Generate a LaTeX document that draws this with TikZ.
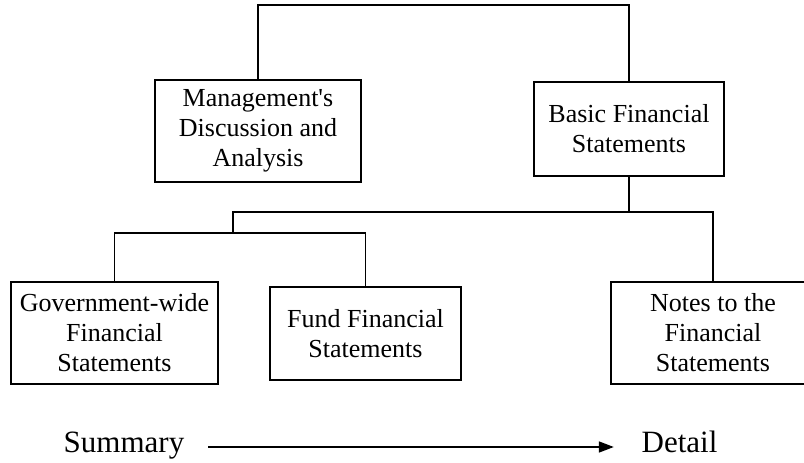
\documentclass[tikz,border=0pt]{standalone}
\usepackage{fontspec}
\setmainfont{Liberation Serif}
\usetikzlibrary{arrows.meta}

\begin{document}
\begin{tikzpicture}[x=1pt,y=-1pt,line width=1.6pt,
    statement/.style={draw,rectangle,align=center,inner sep=0pt,
      font=\fontsize{26pt}{30pt}\selectfont},
    scale label/.style={anchor=base,inner sep=0pt,
      font=\fontsize{31pt}{36pt}\selectfont}]

    \useasboundingbox (0,0) rectangle (804,463);

    % top level
    \node[statement,minimum width=206pt,minimum height=102pt] (mda) at (258,131) {Management\textquotesingle s\\Discussion and\\Analysis};
    \node[statement,minimum width=190pt,minimum height=94pt] (bfs) at (629,129) {Basic Financial\\Statements};

    % second level
    \node[statement,minimum width=207pt,minimum height=102pt] (gov) at (114.5,333) {Government-wide\\Financial\\Statements};
    \node[statement,minimum width=191pt,minimum height=93pt] (fund) at (365.5,333.5) {Fund Financial\\Statements};
    \node[statement,minimum width=204pt,minimum height=102pt] (notes) at (713,333) {Notes to the\\Financial\\Statements};

    \coordinate (top) at (440,5);
    \coordinate (basesplit) at (233,212);
    \coordinate (fundsplit) at (233,233);

    \draw (mda.north) |- (top) -| (bfs.north);
    \draw (bfs.south) -- (bfs.south |- basesplit);
    \draw (fundsplit) -- (basesplit) -| (notes.north);
    \draw (gov.north) |- (fundsplit) -| (fund.north);

    % summary to detail
    \node[scale label] (summary) at (124,452) {Summary};
    \node[scale label] (detail) at (679.5,452) {Detail};
    \draw[-{Triangle[length=15pt,width=11pt]},shorten <=23pt,shorten >=27pt] ([yshift=5pt]summary.base east) -- ([yshift=5pt]detail.base west);
\end{tikzpicture}
\end{document}
